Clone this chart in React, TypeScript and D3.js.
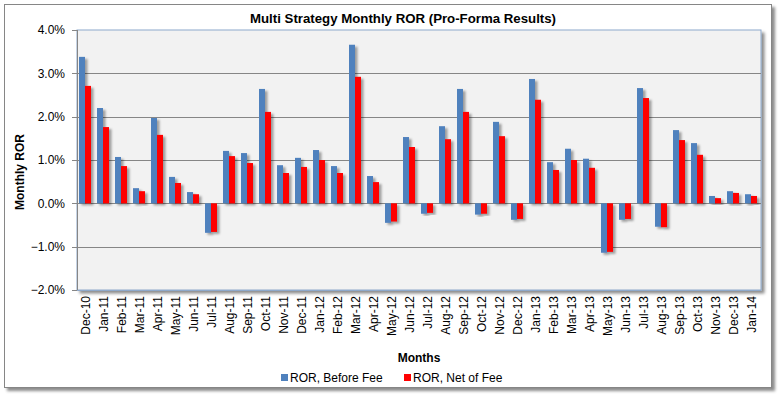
import React from 'react';
import * as d3 from 'd3';

// months on the x axis
const months = [
  'Dec-10', 'Jan-11', 'Feb-11', 'Mar-11', 'Apr-11', 'May-11', 'Jun-11', 'Jul-11', 'Aug-11', 'Sep-11',
  'Oct-11', 'Nov-11', 'Dec-11', 'Jan-12', 'Feb-12', 'Mar-12', 'Apr-12', 'May-12', 'Jun-12', 'Jul-12',
  'Aug-12', 'Sep-12', 'Oct-12', 'Nov-12', 'Dec-12', 'Jan-13', 'Feb-13', 'Mar-13', 'Apr-13', 'May-13',
  'Jun-13', 'Jul-13', 'Aug-13', 'Sep-13', 'Oct-13', 'Nov-13', 'Dec-13', 'Jan-14'
];

// monthly ROR in percent
const beforeFee = [
  3.38, 2.20, 1.07, 0.35, 1.97, 0.61, 0.26, -0.68, 1.21, 1.16,
  2.64, 0.88, 1.05, 1.23, 0.86, 3.66, 0.63, -0.45, 1.53, -0.24,
  1.78, 2.64, -0.26, 1.88, -0.38, 2.87, 0.95, 1.26, 1.03, -1.14,
  -0.38, 2.66, -0.54, 1.69, 1.39, 0.17, 0.28, 0.21
];
const netOfFee = [
  2.71, 1.76, 0.86, 0.28, 1.58, 0.47, 0.21, -0.66, 1.09, 0.93,
  2.11, 0.70, 0.84, 1.00, 0.70, 2.92, 0.49, -0.42, 1.30, -0.22,
  1.48, 2.11, -0.24, 1.55, -0.36, 2.39, 0.77, 1.00, 0.82, -1.12,
  -0.36, 2.43, -0.55, 1.46, 1.12, 0.12, 0.24, 0.17
];

const seriesNames = ['ROR, Before Fee', 'ROR, Net of Fee'];
const seriesColors = ['#4F81BD', '#FF0000'];
const yTicks = [-2, -1, 0, 1, 2, 3, 4];

const W = 782;
const H = 398;
const plot = { left: 77, right: 761, top: 30, bottom: 290 };
const font = "'Liberation Sans', Arial, sans-serif";

export default function App() {
  const x = d3.scaleBand<string>().domain(months).range([plot.left, plot.right]).padding(0);
  const x1 = d3.scaleBand<number>().domain([0, 1]).range([2, 14]).padding(0);
  const y = d3.scaleLinear().domain([-2, 4]).range([plot.bottom, plot.top]);
  const series = [beforeFee, netOfFee];

  return (
    <svg width={W} height={H} style={{ position: 'fixed', left: 0, top: 0, background: '#fff' }}>
      <defs>
        <filter id="boxShadow" x="-5%" y="-5%" width="115%" height="115%">
          <feDropShadow dx="3" dy="3" stdDeviation="1.5" floodColor="#000" floodOpacity="0.45" />
        </filter>
        <filter id="barShadow" x="-50%" y="-10%" width="250%" height="130%">
          <feDropShadow dx="2.5" dy="2" stdDeviation="1.1" floodColor="#000" floodOpacity="0.35" />
        </filter>
      </defs>

      {/* chart frame */}
      <rect x={4.5} y={4.5} width={767} height={383} fill="#fff" stroke="#868686" filter="url(#boxShadow)" />

      {/* plot area */}
      <rect
        x={plot.left}
        y={plot.top}
        width={plot.right - plot.left}
        height={plot.bottom - plot.top}
        fill="#F2F2F2"
        stroke="#8EA9CB"
        filter="url(#boxShadow)"
      />

      {/* gridlines */}
      {yTicks.slice(1, -1).map(t => (
        <line key={t} x1={plot.left} x2={plot.right} y1={Math.round(y(t)) + 0.5} y2={Math.round(y(t)) + 0.5} stroke="#868686" />
      ))}

      {/* bars */}
      {months.map((m, i) => (
        <g key={m}>
          {series.map((s, k) => {
            const v = s[i];
            const y0 = y(0);
            const yv = y(v);
            return (
              <rect
                key={k}
                x={(x(m) || 0) + (x1(k) || 0)}
                y={Math.min(y0, yv)}
                width={x1.bandwidth()}
                height={Math.abs(yv - y0)}
                fill={seriesColors[k]}
                filter="url(#barShadow)"
              />
            );
          })}
        </g>
      ))}

      {/* axes */}
      <line x1={plot.left + 0.5} x2={plot.left + 0.5} y1={plot.top} y2={plot.bottom} stroke="#868686" />
      <line x1={plot.left} x2={plot.right} y1={plot.bottom + 0.5} y2={plot.bottom + 0.5} stroke="#8EA9CB" />
      {yTicks.map(t => (
        <g key={t}>
          <line x1={plot.left - 5} x2={plot.left} y1={Math.round(y(t)) + 0.5} y2={Math.round(y(t)) + 0.5} stroke="#868686" />
          <text x={65} y={y(t)} dy="0.35em" textAnchor="end" fontFamily={font} fontSize={12} fill="#000">
            {d3.format('.1f')(t) + '%'}
          </text>
        </g>
      ))}
      {months.map(m => {
        const cx = (x(m) || 0) + x.bandwidth() / 2 + 4;
        return (
          <text
            key={m}
            transform={`translate(${cx},296) rotate(-90)`}
            textAnchor="end"
            fontFamily={font}
            fontSize={12}
            fill="#000"
          >
            {m}
          </text>
        );
      })}

      {/* titles */}
      <text
        x={403}
        y={23}
        textAnchor="middle"
        fontFamily="'Liberation Sans Narrow', 'Arial Narrow', 'Liberation Sans', sans-serif"
        fontWeight="bold"
        fontSize={13}
        textLength={306}
        lengthAdjust="spacingAndGlyphs"
      >
        Multi Strategy Monthly ROR (Pro-Forma Results)
      </text>
      <text
        transform="translate(24,172) rotate(-90)"
        textAnchor="middle"
        fontFamily={font}
        fontWeight="bold"
        fontSize={12}
      >
        Monthly ROR
      </text>
      <text x={(plot.left + plot.right) / 2} y={362} textAnchor="middle" fontFamily={font} fontWeight="bold" fontSize={12}>
        Months
      </text>

      {/* legend */}
      {seriesNames.map((name, k) => {
        const lx = [281, 404][k];
        return (
          <g key={name}>
            <rect x={lx} y={374} width={7} height={7} fill={seriesColors[k]} />
            <text x={lx + 9} y={382} fontFamily={font} fontSize={12}>
              {name}
            </text>
          </g>
        );
      })}
    </svg>
  );
}
